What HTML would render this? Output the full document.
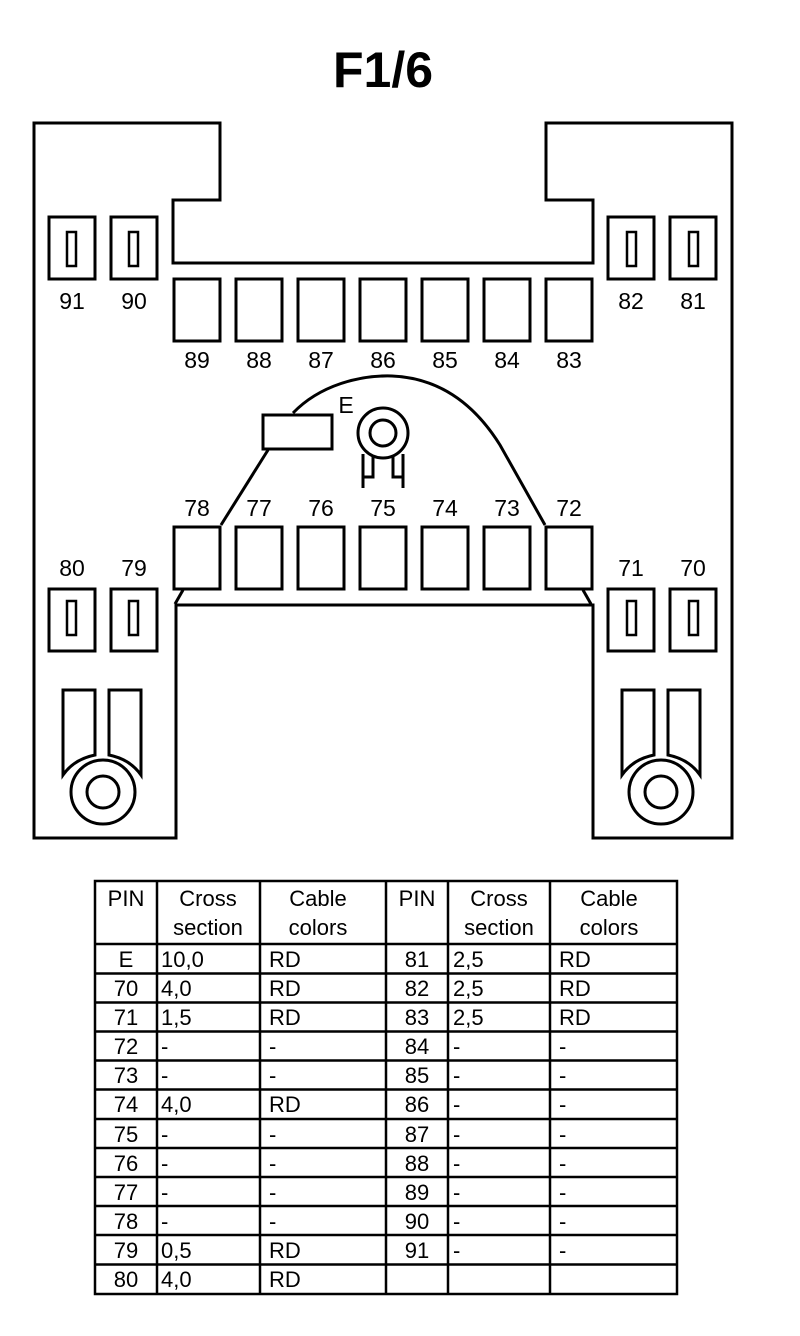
<!DOCTYPE html>
<html><head><meta charset="utf-8"><style>body{margin:0;background:#fff}svg{display:block}</style></head>
<body>
<svg width="800" height="1336" viewBox="0 0 800 1336" xmlns="http://www.w3.org/2000/svg" font-family="Liberation Sans, sans-serif">
<rect width="800" height="1336" fill="#fff"/>
<text x="383" y="87" font-size="50" font-weight="bold" text-anchor="middle">F1/6</text>
<g fill="none" stroke="#000" stroke-width="3">
<path d="M34,123 H220 V200 H173 V263 H593 V200 H546 V123 H732 V838 H593 V605 H176 V838 H34 Z"/>
<rect x="49" y="217" width="46" height="62"/><rect x="111" y="217" width="46" height="62"/>
<rect x="608" y="217" width="46" height="62"/><rect x="670" y="217" width="46" height="62"/>
<rect x="67" y="232" width="9" height="34" stroke-width="2.5"/><rect x="129" y="232" width="9" height="34" stroke-width="2.5"/>
<rect x="627" y="232" width="9" height="34" stroke-width="2.5"/><rect x="689" y="232" width="9" height="34" stroke-width="2.5"/>
<rect x="49" y="589" width="46" height="62"/><rect x="111" y="589" width="46" height="62"/>
<rect x="608" y="589" width="46" height="62"/><rect x="670" y="589" width="46" height="62"/>
<rect x="67" y="601" width="9" height="34" stroke-width="2.5"/><rect x="129" y="601" width="9" height="34" stroke-width="2.5"/>
<rect x="627" y="601" width="9" height="34" stroke-width="2.5"/><rect x="689" y="601" width="9" height="34" stroke-width="2.5"/>
<rect x="174" y="279" width="46" height="62"/><rect x="236" y="279" width="46" height="62"/><rect x="298" y="279" width="46" height="62"/><rect x="360" y="279" width="46" height="62"/><rect x="422" y="279" width="46" height="62"/><rect x="484" y="279" width="46" height="62"/><rect x="546" y="279" width="46" height="62"/>
<rect x="174" y="527" width="46" height="62"/><rect x="236" y="527" width="46" height="62"/><rect x="298" y="527" width="46" height="62"/><rect x="360" y="527" width="46" height="62"/><rect x="422" y="527" width="46" height="62"/><rect x="484" y="527" width="46" height="62"/><rect x="546" y="527" width="46" height="62"/>
<path d="M183,590 L175,604"/><path d="M583,590 L591,604"/>
<path d="M221,525 L268,450"/>
<path d="M293,413 C320,385 360,375 392,376 C440,378 475,405 500,445 L545,525"/>
<rect x="263" y="415" width="69" height="34"/>
<circle cx="383" cy="433" r="25"/><circle cx="383" cy="433" r="13"/>
<path d="M363,454 V488 M403,454 V488 M373,457 V477 H363 M393,457 V477 H403"/>
<path d="M63,690 H95 V755 C80,758 70,765 63,775 Z"/>
<path d="M141,690 H109 V755 C124,758 134,765 141,775 Z"/>
<circle cx="103" cy="792" r="32"/><circle cx="103" cy="792" r="16"/>
<path d="M622,690 H654 V755 C639,758 629,765 622,775 Z"/>
<path d="M700,690 H668 V755 C683,758 693,765 700,775 Z"/>
<circle cx="661" cy="792" r="32"/><circle cx="661" cy="792" r="16"/>
</g>
<g font-size="23" text-anchor="middle">
<text x="72" y="309">91</text><text x="134" y="309">90</text><text x="631" y="309">82</text><text x="693" y="309">81</text>
<text x="197" y="368">89</text><text x="259" y="368">88</text><text x="321" y="368">87</text><text x="383" y="368">86</text><text x="445" y="368">85</text><text x="507" y="368">84</text><text x="569" y="368">83</text>
<text x="197" y="516">78</text><text x="259" y="516">77</text><text x="321" y="516">76</text><text x="383" y="516">75</text><text x="445" y="516">74</text><text x="507" y="516">73</text><text x="569" y="516">72</text>
<text x="72" y="576">80</text><text x="134" y="576">79</text><text x="631" y="576">71</text><text x="693" y="576">70</text>
<text x="346" y="413">E</text>
</g>
<g stroke="#000" stroke-width="2.5" fill="none">
<rect x="95" y="881" width="582" height="413"/>
<path d="M157,881 V1294 M260,881 V1294 M386,881 V1294 M448,881 V1294 M550,881 V1294"/>
<path d="M95,944 H677 M95,973.5 H677 M95,1002.5 H677 M95,1031.5 H677 M95,1060.5 H677 M95,1089.5 H677 M95,1119 H677 M95,1148 H677 M95,1177 H677 M95,1206 H677 M95,1235 H677 M95,1264.5 H677"/>
</g>
<g font-size="22">
<text x="126" y="906" text-anchor="middle">PIN</text><text x="208" y="906" text-anchor="middle">Cross</text><text x="208" y="935" text-anchor="middle">section</text><text x="318" y="906" text-anchor="middle">Cable</text><text x="318" y="935" text-anchor="middle">colors</text>
<text x="417" y="906" text-anchor="middle">PIN</text><text x="499" y="906" text-anchor="middle">Cross</text><text x="499" y="935" text-anchor="middle">section</text><text x="609" y="906" text-anchor="middle">Cable</text><text x="609" y="935" text-anchor="middle">colors</text>
</g>
<g font-size="22">
<g text-anchor="middle">
<text x="126" y="967">E</text><text x="126" y="996">70</text><text x="126" y="1025">71</text><text x="126" y="1054">72</text><text x="126" y="1083">73</text><text x="126" y="1112">74</text><text x="126" y="1142">75</text><text x="126" y="1171">76</text><text x="126" y="1200">77</text><text x="126" y="1229">78</text><text x="126" y="1258">79</text><text x="126" y="1287">80</text>
<text x="417" y="967">81</text><text x="417" y="996">82</text><text x="417" y="1025">83</text><text x="417" y="1054">84</text><text x="417" y="1083">85</text><text x="417" y="1112">86</text><text x="417" y="1142">87</text><text x="417" y="1171">88</text><text x="417" y="1200">89</text><text x="417" y="1229">90</text><text x="417" y="1258">91</text>
</g>
<text x="161" y="967">10,0</text><text x="161" y="996">4,0</text><text x="161" y="1025">1,5</text><text x="161" y="1054">-</text><text x="161" y="1083">-</text><text x="161" y="1112">4,0</text><text x="161" y="1142">-</text><text x="161" y="1171">-</text><text x="161" y="1200">-</text><text x="161" y="1229">-</text><text x="161" y="1258">0,5</text><text x="161" y="1287">4,0</text>
<text x="269" y="967">RD</text><text x="269" y="996">RD</text><text x="269" y="1025">RD</text><text x="269" y="1054">-</text><text x="269" y="1083">-</text><text x="269" y="1112">RD</text><text x="269" y="1142">-</text><text x="269" y="1171">-</text><text x="269" y="1200">-</text><text x="269" y="1229">-</text><text x="269" y="1258">RD</text><text x="269" y="1287">RD</text>
<text x="453" y="967">2,5</text><text x="453" y="996">2,5</text><text x="453" y="1025">2,5</text><text x="453" y="1054">-</text><text x="453" y="1083">-</text><text x="453" y="1112">-</text><text x="453" y="1142">-</text><text x="453" y="1171">-</text><text x="453" y="1200">-</text><text x="453" y="1229">-</text><text x="453" y="1258">-</text>
<text x="559" y="967">RD</text><text x="559" y="996">RD</text><text x="559" y="1025">RD</text><text x="559" y="1054">-</text><text x="559" y="1083">-</text><text x="559" y="1112">-</text><text x="559" y="1142">-</text><text x="559" y="1171">-</text><text x="559" y="1200">-</text><text x="559" y="1229">-</text><text x="559" y="1258">-</text>
</g>
</svg>
</body></html>
